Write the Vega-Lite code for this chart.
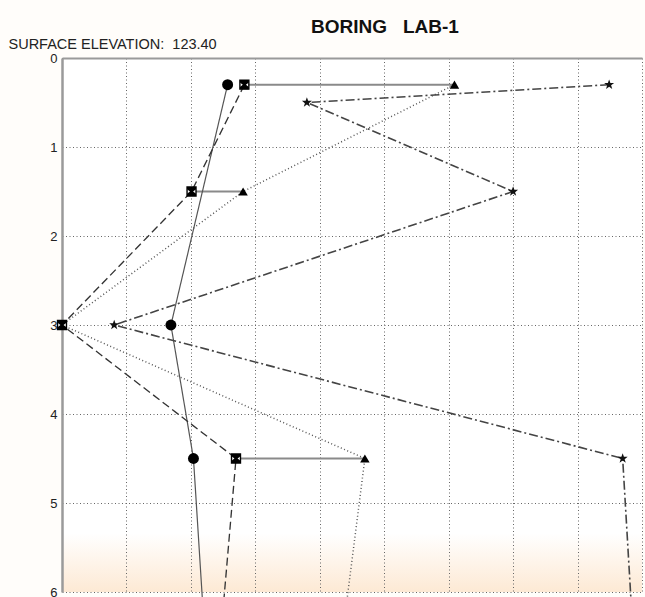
{
  "$schema": "https://vega.github.io/schema/vega-lite/v6.json",
  "width": 580,
  "height": 534,
  "autosize": "none",
  "padding": {"left": 62, "top": 58, "right": 3, "bottom": 5},
  "background": "#fffdfa",
  "config": {
    "font": "Liberation Sans",
    "view": {
      "stroke": null,
      "fill": {
        "gradient": "linear",
        "x1": 0, "y1": 0, "x2": 0, "y2": 1,
        "stops": [
          {"offset": 0, "color": "#ffffff"},
          {"offset": 0.89, "color": "#ffffff"},
          {"offset": 1, "color": "#fde9d4"}
        ]
      }
    }
  },
  "title": {
    "text": "BORING\u00a0\u00a0 LAB-1",
    "fontSize": 19,
    "fontWeight": "bold",
    "color": "#111111",
    "anchor": "middle",
    "dx": 33,
    "offset": -1
  },
  "datasets": {
    "pts": [
      {"series": "circle", "depth": 0.3, "value": 2.57},
      {"series": "circle", "depth": 3.0, "value": 1.69},
      {"series": "circle", "depth": 4.5, "value": 2.04},
      {"series": "circle", "depth": 6.1, "value": 2.18},
      {"series": "ibar", "depth": 0.3, "value": 2.83},
      {"series": "ibar", "depth": 1.5, "value": 2.01},
      {"series": "ibar", "depth": 3.0, "value": 0.0},
      {"series": "ibar", "depth": 4.5, "value": 2.70},
      {"series": "ibar", "depth": 6.1, "value": 2.51},
      {"series": "tri", "depth": 0.3, "value": 6.09},
      {"series": "tri", "depth": 1.5, "value": 2.81},
      {"series": "tri", "depth": 3.0, "value": 0.0},
      {"series": "tri", "depth": 4.5, "value": 4.70},
      {"series": "tri", "depth": 6.1, "value": 4.42},
      {"series": "star", "depth": 0.3, "value": 8.49},
      {"series": "star", "depth": 0.5, "value": 3.80},
      {"series": "star", "depth": 1.5, "value": 7.00},
      {"series": "star", "depth": 3.0, "value": 0.81},
      {"series": "star", "depth": 4.5, "value": 8.70},
      {"series": "star", "depth": 6.1, "value": 8.83}
    ],
    "ranges": [
      {"depth": 0.3, "lo": 2.83, "hi": 6.09},
      {"depth": 1.5, "lo": 2.01, "hi": 2.81},
      {"depth": 4.5, "lo": 2.70, "hi": 4.70}
    ]
  },
  "encoding": {
    "y": {
      "field": "depth", "type": "quantitative",
      "scale": {"domain": [0, 6], "reverse": true, "nice": false, "zero": false},
      "axis": {
        "orient": "left",
        "values": [0, 1, 2, 3, 4, 5, 6],
        "title": "SURFACE ELEVATION:\u00a0 123.40",
        "titleAngle": 0,
        "titleAlign": "left",
        "titleBaseline": "alphabetic",
        "titleX": -54,
        "titleY": -10,
        "titleFontSize": 14.5,
        "titleFontWeight": "normal",
        "titleColor": "#222222",
        "labelFontSize": 13,
        "labelColor": "#222222",
        "labelPadding": 5,
        "ticks": false,
        "domainColor": "#9a9a9a",
        "domainWidth": 2.5,
        "grid": true,
        "gridColor": "#666666",
        "gridDash": [1, 2.5],
        "gridWidth": 1
      }
    }
  },
  "layer": [
    {
      "data": {"name": "ranges"},
      "mark": {"type": "rule", "color": "#8a8a8a", "strokeWidth": 2},
      "encoding": {
        "x": {
          "field": "lo", "type": "quantitative",
          "scale": {"domain": [0, 9], "nice": false},
          "axis": {
            "orient": "top",
            "values": [0, 1, 2, 3, 4, 5, 6, 7, 8, 9],
            "labels": false,
            "ticks": false,
            "title": null,
            "domainColor": "#9a9a9a",
            "domainWidth": 2,
            "grid": true,
            "gridColor": "#666666",
            "gridDash": [1, 2.5],
            "gridWidth": 1
          }
        },
        "x2": {"field": "hi"}
      }
    },
    {
      "data": {"name": "pts"},
      "mark": {"type": "line", "clip": false},
      "encoding": {
        "x": {"field": "value", "type": "quantitative"},
        "order": {"field": "depth", "type": "quantitative"},
        "detail": {"field": "series"},
        "strokeDash": {
          "field": "series", "type": "nominal",
          "scale": {"domain": ["circle", "ibar", "tri", "star"], "range": [[1, 0], [8, 4], [1, 2.5], [9, 3, 2, 3]]},
          "legend": null
        },
        "color": {
          "field": "series", "type": "nominal",
          "scale": {"domain": ["circle", "ibar", "tri", "star"], "range": ["#555555", "#333333", "#555555", "#444444"]},
          "legend": null
        },
        "strokeWidth": {
          "field": "series", "type": "nominal",
          "scale": {"domain": ["circle", "ibar", "tri", "star"], "range": [1.2, 1.6, 1.2, 1.5]},
          "legend": null
        }
      }
    },
    {
      "data": {"name": "pts"},
      "transform": [{"filter": "datum.series === 'circle' && datum.depth <= 5"}],
      "mark": {"type": "point", "shape": "circle", "filled": true, "color": "#000000", "size": 120, "opacity": 1},
      "encoding": {"x": {"field": "value", "type": "quantitative"}}
    },
    {
      "data": {"name": "pts"},
      "transform": [{"filter": "datum.series === 'tri' && datum.depth <= 5 && datum.value > 0"}],
      "mark": {"type": "point", "shape": "triangle-up", "filled": true, "color": "#000000", "size": 90, "opacity": 1},
      "encoding": {"x": {"field": "value", "type": "quantitative"}}
    },
    {
      "data": {"name": "pts"},
      "transform": [{"filter": "datum.series === 'star' && datum.depth <= 5"}],
      "mark": {"type": "point", "shape": "M0,-1L0.24,-0.32L0.95,-0.31L0.38,0.12L0.59,0.81L0,0.4L-0.59,0.81L-0.38,0.12L-0.95,-0.31L-0.24,-0.32Z", "filled": true, "color": "#111111", "size": 110, "opacity": 1},
      "encoding": {"x": {"field": "value", "type": "quantitative"}}
    },
    {
      "data": {"name": "pts"},
      "transform": [{"filter": "datum.series === 'ibar' && datum.depth <= 5"}],
      "mark": {"type": "point", "shape": "M-1,-1H1V1H-1Z", "filled": true, "fill": "#ffffff", "stroke": "#000000", "strokeWidth": 1.4, "size": 80, "opacity": 1},
      "encoding": {"x": {"field": "value", "type": "quantitative"}}
    },
    {
      "data": {"name": "pts"},
      "transform": [{"filter": "datum.series === 'ibar' && datum.depth <= 5"}],
      "mark": {"type": "point", "shape": "M-1,-1H1V-0.5L0.35,0L1,0.5V1H-1V0.5L-0.35,0L-1,-0.5Z", "filled": true, "color": "#000000", "size": 80, "opacity": 1},
      "encoding": {"x": {"field": "value", "type": "quantitative"}}
    }
  ]
}
